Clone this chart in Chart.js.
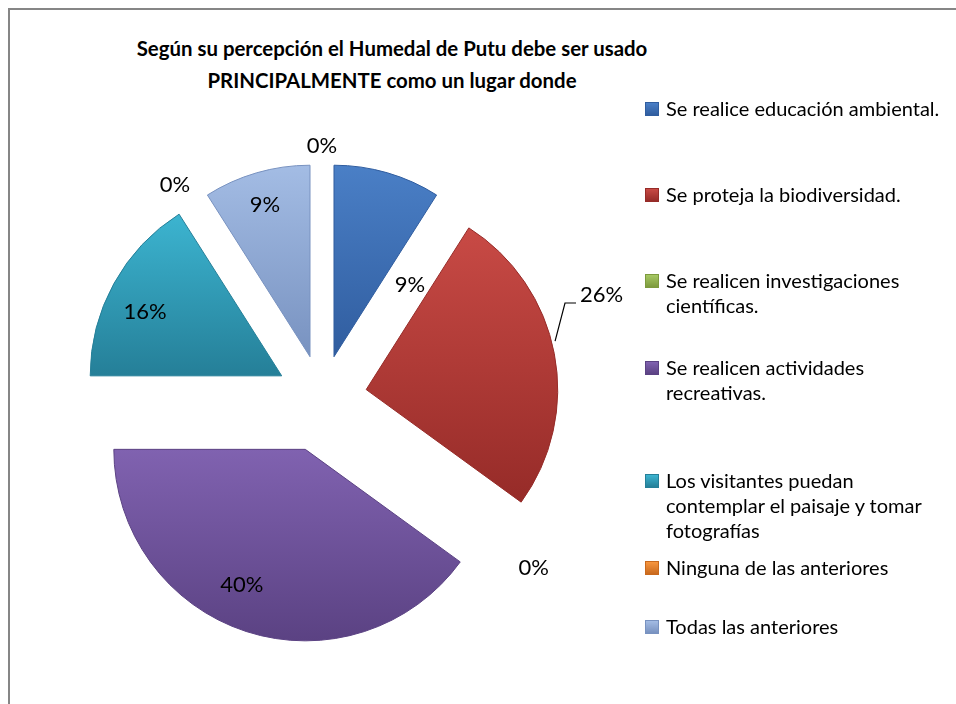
<!DOCTYPE html>
<html>
<head>
<meta charset="utf-8">
<script src="https://cdn.jsdelivr.net/npm/chart.js@4.4.0/dist/chart.umd.min.js"></script>
<style>
body{
    margin:0;
    width:956px;
    height:704px;
    overflow:hidden;
    background:#fff;
    font-family:Lato, "Open Sans", sans-serif;
    color:#000;
}
#frame{
    position:absolute;
    left:8px;
    top:8px;
    width:1000px;
    height:800px;
    border:2px solid #868686;
}
#title{
    position:absolute;
    left:0;
    top:32px;
    width:784px;
    text-align:center;
    font-weight:bold;
    font-size:20.4px;
    line-height:32px;
}
#chartBox{
    position:absolute;
    left:0;
    top:0;
    width:956px;
    height:704px;
}
#legend{
    position:absolute;
    left:645px;
    top:0;
    width:310px;
    font-size:20px;
    line-height:25px;
}
.item{
    position:absolute;
    left:0;
    padding-left:21px;
    width:290px;
    white-space:nowrap;
}
.swatch{
    position:absolute;
    left:0;
    top:6px;
    width:14px;
    height:14px;
    box-sizing:border-box;
}
</style>
</head>
<body>
<div id="frame"></div>
<div id="title">Según su percepción el Humedal de Putu debe ser usado<br>PRINCIPALMENTE como un lugar donde</div>
<div id="chartBox"><canvas id="pie"></canvas></div>
<div id="legend"></div>

<script>
// answers (last one is the empty row of the sheet, it only shows its 0%)
const categories = [
    "Se realice educación ambiental.",
    "Se proteja la biodiversidad.",
    "Se realicen investigaciones científicas.",
    "Se realicen actividades recreativas.",
    "Los visitantes puedan contemplar el paisaje y tomar fotografías",
    "Ninguna de las anteriores",
    "Todas las anteriores",
    ""
];
const values = [9, 26, 0, 40, 16, 0, 9, 0];

// legend lines as they wrap in the original
const legendLines = [
    ["Se realice educación ambiental."],
    ["Se proteja la biodiversidad."],
    ["Se realicen investigaciones", "científicas."],
    ["Se realicen actividades", "recreativas."],
    ["Los visitantes puedan", "contemplar el paisaje y tomar", "fotografías"],
    ["Ninguna de las anteriores"],
    ["Todas las anteriores"]
];

const lightColors = ["#4a7fc6", "#c84a45", "#a6c863", "#8062b0", "#3cb4d0", "#f7963f", "#a3bce4", "#fff"];
const darkColors  = ["#305d9f", "#962b28", "#7d9a3d", "#5b4283", "#257f98", "#c9691d", "#7892c0", "#fff"];

const legendTops = [96, 182, 268, 355, 468, 555, 614];

// each slice pulled out by its own amount (px), like the per-point explosion in Excel
const explodeBy = [43, 45, 0, 54, 46, 0, 43, 0];
const borderW = 1;

// where each label sits: angle nudge from the slice bisector (deg), distance in radii from the pie centre
const labelSpots = [[21.7, 0.75], [-9.4, 1.56], [2.7, 1.42], [5.2, 1.065], [-2.9, 1.03], [-2.2, 1.355], [-0.3, 1.053], [0, 1.32]];

const total = values.reduce((a, b) => a + b, 0);

function sliceAngles(i) {
    let before = 0;
    for (let k = 0; k < i; k++) before += values[k];
    const a0 = before / total * 2 * Math.PI - Math.PI / 2;
    const a1 = (before + values[i]) / total * 2 * Math.PI - Math.PI / 2;
    return [a0, a1];
}

function sliceGradient(context) {
    const chart = context.chart;
    const area = chart.chartArea;
    const i = context.dataIndex;
    if (!area || i === undefined) return lightColors[i] || "#888";

    const cx = (area.left + area.right) / 2;
    const cy = (area.top + area.bottom) / 2;
    const r = Math.min(area.width, area.height) / 2 - borderW;
    const [a0, a1] = sliceAngles(i);
    const mid = (a0 + a1) / 2;
    const ox = cx + Math.cos(mid) * explodeBy[i];
    const oy = cy + Math.sin(mid) * explodeBy[i];

    let top = oy, bottom = oy;
    for (let s = 0; s <= 20; s++) {
        const a = a0 + (a1 - a0) * s / 20;
        const y = oy + Math.sin(a) * r;
        top = Math.min(top, y);
        bottom = Math.max(bottom, y);
    }
    if (bottom - top < 1) bottom = top + 1;

    const g = chart.ctx.createLinearGradient(0, top, 0, bottom);
    g.addColorStop(0, lightColors[i]);
    g.addColorStop(1, darkColors[i]);
    return g;
}

// pull every slice out along its bisector (Excel "exploded pie")
const explodePlugin = {
    id: "explode",
    afterDatasetUpdate(chart, args) {
        args.meta.data.forEach((arc, i) => {
            const mid = (arc.startAngle + arc.endAngle) / 2;
            arc.x += Math.cos(mid) * explodeBy[i];
            arc.y += Math.sin(mid) * explodeBy[i];
        });
    }
};

const labelPlugin = {
    id: "pctLabels",
    afterDatasetsDraw(chart) {
        const ctx = chart.ctx;
        const area = chart.chartArea;
        const cx = (area.left + area.right) / 2;
        const cy = (area.top + area.bottom) / 2;
        const r = Math.min(area.width, area.height) / 2 - borderW;
        const arcs = chart.getDatasetMeta(0).data;

        ctx.save();
        ctx.font = "22px Lato, 'Open Sans', sans-serif";
        ctx.fillStyle = "#000";
        ctx.textAlign = "center";
        ctx.textBaseline = "middle";

        arcs.forEach((arc, i) => {
            const mid = (arc.startAngle + arc.endAngle) / 2 + labelSpots[i][0] * Math.PI / 180;
            const d = labelSpots[i][1] * r;
            const x = cx + Math.cos(mid) * d;
            const y = cy + Math.sin(mid) * d;
            ctx.fillText(Math.round(values[i] / total * 100) + "%", x, y);
        });

        // leader line of the 26% label
        const red = arcs[1];
        const a = -Math.PI / 2 + 75.6 * Math.PI / 180;
        const p0x = red.x + Math.cos(a) * (r + 4);
        const p0y = red.y + Math.sin(a) * (r + 4);
        const b = -Math.PI / 2 + 68.65 * Math.PI / 180;
        const p1x = cx + Math.cos(b) * 1.366 * r;
        const p1y = cy + Math.sin(b) * 1.366 * r;
        ctx.strokeStyle = "#000";
        ctx.lineWidth = 1.2;
        ctx.beginPath();
        ctx.moveTo(p0x, p0y);
        ctx.lineTo(p1x, p1y);
        ctx.lineTo(p1x + 11, p1y);
        ctx.stroke();
        ctx.restore();
    }
};

const chart = new Chart(document.getElementById("pie"), {
    type: "pie",
    data: {
        labels: categories,
        datasets: [{
            data: values,
            backgroundColor: sliceGradient,
            borderColor: darkColors,
            borderWidth: borderW
        }]
    },
    options: {
        responsive: true,
        maintainAspectRatio: false,
        animation: false,
        events: [],
        layout: {
            padding: {left: 130, top: 206, right: 442, bottom: 114}
        },
        plugins: {
            legend: {display: false},
            tooltip: {enabled: false},
            title: {display: false}
        }
    },
    plugins: [explodePlugin, labelPlugin]
});

// legend in the same order as the sheet
const legend = document.getElementById("legend");
legendLines.forEach((lines, i) => {
    const item = document.createElement("div");
    item.className = "item";
    item.style.top = legendTops[i] + "px";
    item.innerHTML = `<span class="swatch" style="background:linear-gradient(${lightColors[i]}, ${darkColors[i]});border:1px solid ${darkColors[i]}"></span>` + lines.join("<br>");
    legend.appendChild(item);
});
</script>
</body>
</html>
